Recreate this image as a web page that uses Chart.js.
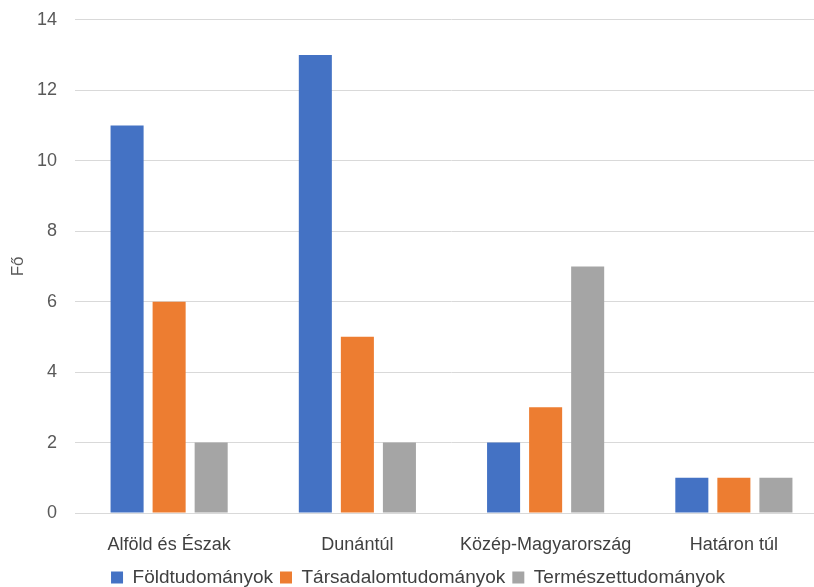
<!DOCTYPE html>
<html>
<head>
<meta charset="utf-8">
<script src="https://cdn.jsdelivr.net/npm/chart.js@4/dist/chart.umd.min.js"></script>
<style>
  html, body { margin: 0; padding: 0; background: #fff; overflow: hidden; }
  #wrap { position: relative; width: 828px; height: 606px; margin-top: -9px; }
</style>
</head>
<body>
<div id="wrap"><canvas id="chart"></canvas></div>
<script>
const categories = ['Alföld és Észak', 'Dunántúl', 'Közép-Magyarország', 'Határon túl'];
const foldtud    = [11, 13, 2, 1];
const tarsadalom = [6, 5, 3, 1];
const termeszet  = [2, 2, 7, 1];

const FONT = "'Liberation Sans', 'Arial', sans-serif";

function series(label, data, color) {
    return {
        label: label,
        data: data,
        backgroundColor: color,
        borderWidth: 0,
        categoryPercentage: 0.67,
        barPercentage: 0.786,
    };
}

new Chart(document.getElementById('chart').getContext('2d'), {
    type: 'bar',
    data: {
        labels: categories,
        datasets: [
            series('Földtudományok', foldtud, '#4472c4'),
            series('Társadalomtudományok', tarsadalom, '#ed7d31'),
            series('Természettudományok', termeszet, '#a5a5a5'),
        ]
    },
    options: {
        animation: false,
        responsive: true,
        maintainAspectRatio: false,
        layout: { padding: { top: 0, left: 8, right: 0, bottom: 0 } },
        plugins: {
            legend: {
                position: 'bottom',
                labels: {
                    color: '#404040',
                    boxWidth: 12,
                    boxHeight: 12,
                    padding: 7,
                    font: { family: FONT, size: 19 }
                }
            },
            tooltip: { enabled: false },
        },
        scales: {
            x: {
                grid: { display: false },
                border: { color: '#d9d9d9' },
                ticks: { color: '#404040', padding: 13, maxRotation: 0, font: { family: FONT, size: 18 } },
                afterFit: axis => { axis.height = 48; }
            },
            y: {
                min: 0, max: 14,
                ticks: { stepSize: 2, color: '#595959', padding: 18, font: { family: FONT, size: 18 } },
                grid: { color: '#d9d9d9', drawTicks: false },
                border: { display: false },
                title: { display: true, text: 'Fő', color: '#595959', padding: 0, font: { family: FONT, size: 17 } },
                afterFit: axis => { axis.width = 67; }
            }
        }
    }
});
</script>
</body>
</html>
